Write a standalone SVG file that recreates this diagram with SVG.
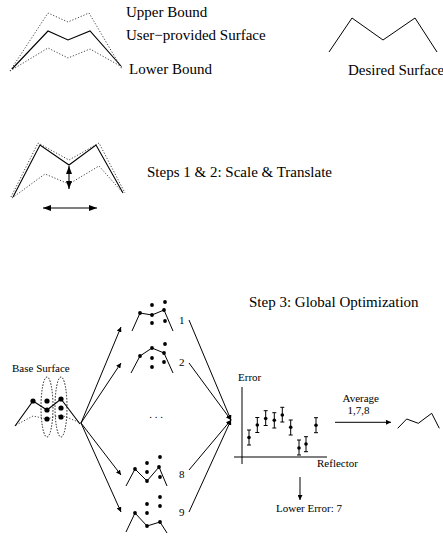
<svg xmlns="http://www.w3.org/2000/svg" width="443" height="537" viewBox="0 0 443 537">
<style>
text{font-family:"Liberation Serif","Times New Roman",serif;fill:#000}
.big{font-size:15px}
.sm{font-size:11px}
.solid{fill:none;stroke:#000;stroke-width:1.1}
.dot{fill:none;stroke:#444;stroke-width:1;stroke-dasharray:1.2,1.8}
.ln{fill:none;stroke:#000;stroke-width:1}
.pt{fill:#000}
.ell{fill:none;stroke:#000;stroke-width:0.9;stroke-dasharray:1.5,1.5}
</style>
<defs>
<marker id="ah" markerUnits="userSpaceOnUse" markerWidth="8" markerHeight="6" refX="8" refY="3" orient="auto-start-reverse">
<path d="M0,0 L8,3 L0,6 z" fill="#000"/>
</marker>
<marker id="ahs" markerUnits="userSpaceOnUse" markerWidth="5" markerHeight="5" refX="5" refY="2.5" orient="auto">
<path d="M0,0 L5,2.5 L0,5 z" fill="#000"/>
</marker>
</defs>

<g id="user-surface">
<polyline class="dot" points="10,71 48,13 68,22 89,13 122,69"/>
<polyline class="solid" points="12,69 48,31 68,40 90,31 121,66"/>
<polyline class="dot" points="10,71 48,48 68,58 90,49 122,67"/>
<text class="big" x="126" y="17">Upper Bound</text>
<text class="big" x="126" y="40">User−provided Surface</text>
<text class="big" x="129" y="74">Lower Bound</text>
</g>

<g id="desired-surface">
<polyline class="ln" points="329,52 352,18 383,40 415,18 437,52"/>
<text class="big" x="348" y="75">Desired Surface</text>
</g>

<g id="step12">
<polyline class="dot" points="11,197 38,143 69,160 99,143 125,193"/>
<polyline class="solid" points="13,197 40,145 69,165 96,145 123,193"/>
<polyline class="dot" points="12,198 45,174 69,184 99,166 123,193"/>
<line class="solid" x1="69" y1="166" x2="69" y2="189" marker-start="url(#ah)" marker-end="url(#ah)"/>
<line class="solid" x1="43" y1="208" x2="97" y2="208" marker-start="url(#ah)" marker-end="url(#ah)"/>
<text class="big" x="147" y="177">Steps 1 &amp; 2: Scale &amp; Translate</text>
</g>

<g id="title3">
<text class="big" x="249" y="307">Step 3: Global Optimization</text>
</g>

<g id="base-surface">
<text class="sm" x="12" y="372">Base Surface</text>
<ellipse class="ell" cx="47" cy="407" rx="6" ry="30"/>
<ellipse class="ell" cx="61" cy="407" rx="6" ry="30"/>
<polyline class="dot" points="16,425 33,416 47,419 61,415 81,423"/>
<polyline class="solid" points="15,426 33,401 47,410 61,399 80,424"/>
<circle class="pt" cx="33" cy="401" r="2.6"/>
<circle class="pt" cx="47" cy="401" r="2.6"/>
<circle class="pt" cx="47" cy="410" r="2.6"/>
<circle class="pt" cx="47" cy="419" r="2.6"/>
<circle class="pt" cx="61" cy="399" r="2.6"/>
<circle class="pt" cx="61" cy="408" r="2.6"/>
<circle class="pt" cx="61" cy="417" r="2.6"/>
</g>

<g id="candidate1">
<polyline class="ln" points="132,331 140,313 152,315 164,310 173,331"/>
<circle class="pt" cx="140" cy="313" r="1.9"/>
<circle class="pt" cx="152" cy="305" r="1.9"/>
<circle class="pt" cx="152" cy="315" r="1.9"/>
<circle class="pt" cx="152" cy="323" r="1.9"/>
<circle class="pt" cx="165" cy="302" r="1.9"/>
<circle class="pt" cx="164" cy="310" r="1.9"/>
<circle class="pt" cx="165" cy="321" r="1.9"/>
<text class="sm" x="179" y="324">1</text>
</g>

<g id="candidate2">
<polyline class="ln" points="131,373 140,356 152,348 164,353 173,373"/>
<circle class="pt" cx="140" cy="356" r="1.9"/>
<circle class="pt" cx="152" cy="348" r="1.9"/>
<circle class="pt" cx="152" cy="358" r="1.9"/>
<circle class="pt" cx="152" cy="367" r="1.9"/>
<circle class="pt" cx="165" cy="344" r="1.9"/>
<circle class="pt" cx="164" cy="353" r="1.9"/>
<circle class="pt" cx="164" cy="362" r="1.9"/>
<text class="sm" x="179" y="366">2</text>
</g>

<g id="ellipsis">
<text class="sm" x="156" y="418" text-anchor="middle">. . .</text>
</g>

<g id="candidate8">
<polyline class="ln" points="126,486 135,469 147,481 159,467 167,486"/>
<circle class="pt" cx="135" cy="469" r="1.9"/>
<circle class="pt" cx="147" cy="463" r="1.9"/>
<circle class="pt" cx="147" cy="472" r="1.9"/>
<circle class="pt" cx="147" cy="481" r="1.9"/>
<circle class="pt" cx="160" cy="457" r="1.9"/>
<circle class="pt" cx="159" cy="467" r="1.9"/>
<circle class="pt" cx="160" cy="477" r="1.9"/>
<text class="sm" x="179" y="478">8</text>
</g>

<g id="candidate9">
<polyline class="ln" points="126,532 135,513 147,526 160,522 167,533"/>
<circle class="pt" cx="135" cy="513" r="1.9"/>
<circle class="pt" cx="147" cy="504" r="1.9"/>
<circle class="pt" cx="147" cy="513" r="1.9"/>
<circle class="pt" cx="147" cy="526" r="1.9"/>
<circle class="pt" cx="160" cy="497" r="1.9"/>
<circle class="pt" cx="160" cy="506" r="1.9"/>
<circle class="pt" cx="160" cy="522" r="1.9"/>
<text class="sm" x="179" y="516">9</text>
</g>

<g id="chart">
<line class="ln" x1="242" y1="387" x2="242" y2="464"/>
<line class="ln" x1="234" y1="457" x2="327" y2="457"/>
<text class="sm" x="238" y="381">Error</text>
<text class="sm" x="317" y="467">Reflector</text>
<g class="ln">
<path d="M249,430V445M247,430H251M247,445H251"/>
<path d="M257.3,417.5V432.5M255.3,417.5H259.3M255.3,432.5H259.3"/>
<path d="M265.7,410.7V425.5M263.7,410.7H267.7M263.7,425.5H267.7"/>
<path d="M274.3,412.7V428M272.3,412.7H276.3M272.3,428H276.3"/>
<path d="M282.3,407.3V422M280.3,407.3H284.3M280.3,422H284.3"/>
<path d="M290.7,420V435M288.7,420H292.7M288.7,435H292.7"/>
<path d="M299,440V455M297,440H301M297,455H301"/>
<path d="M306,436.7V451.7M304,436.7H308M304,451.7H308"/>
<path d="M316,417.7V432.7M314,417.7H318M314,432.7H318"/>
</g>
<circle class="pt" cx="249" cy="437.5" r="1.8"/>
<circle class="pt" cx="257.3" cy="425" r="1.8"/>
<circle class="pt" cx="265.7" cy="418.5" r="1.8"/>
<circle class="pt" cx="274.3" cy="420.3" r="1.8"/>
<circle class="pt" cx="282.3" cy="415" r="1.8"/>
<circle class="pt" cx="290.7" cy="427.3" r="1.8"/>
<circle class="pt" cx="299" cy="448" r="1.8"/>
<circle class="pt" cx="306" cy="444" r="1.8"/>
<circle class="pt" cx="316" cy="425.3" r="1.8"/>
<text class="sm" x="276" y="512">Lower Error: 7</text>
</g>

<g id="result">
<text class="sm" x="342.5" y="402">Average</text>
<text class="sm" x="347.5" y="414">1,7,8</text>
<polyline class="ln" points="397.7,428.3 406.7,419 418.3,423.3 431.7,413.3 439.3,428.3"/>
</g>

<g id="connectors">
<line class="ln" x1="81" y1="423" x2="121" y2="327" marker-end="url(#ahs)"/>
<line class="ln" x1="81" y1="423" x2="121" y2="363" marker-end="url(#ahs)"/>
<line class="ln" x1="81" y1="423" x2="121" y2="475" marker-end="url(#ahs)"/>
<line class="ln" x1="81" y1="423" x2="121" y2="512" marker-end="url(#ahs)"/>
<line class="ln" x1="189" y1="320" x2="231" y2="420" marker-end="url(#ahs)"/>
<line class="ln" x1="189" y1="363" x2="231" y2="420" marker-end="url(#ahs)"/>
<line class="ln" x1="189" y1="470" x2="231" y2="420" marker-end="url(#ahs)"/>
<line class="ln" x1="189" y1="512" x2="231" y2="420" marker-end="url(#ahs)"/>
<line class="ln" x1="335" y1="422.3" x2="391" y2="422.3" marker-end="url(#ahs)"/>
<line class="ln" x1="300" y1="477" x2="300" y2="500" marker-end="url(#ahs)"/>
</g>
</svg>
